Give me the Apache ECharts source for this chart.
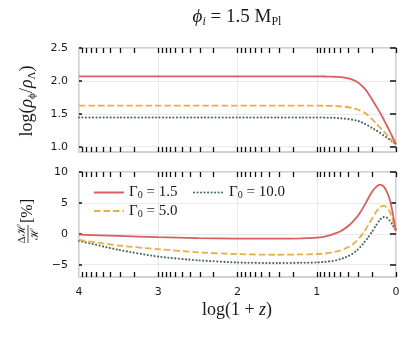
<!DOCTYPE html>
<html><head><meta charset="utf-8">
<script src="https://cdn.jsdelivr.net/npm/echarts@6/dist/echarts.min.js"></script>
<style>html,body{margin:0;padding:0;background:#fff}#c{width:415px;height:338px}</style>
</head><body><div id="c"></div>
<script>
// ---- data ----
const xVals  = [4, 3.5, 3, 2.5, 2, 1.5, 1.2, 1.0, 0.9, 0.85, 0.8, 0.75, 0.7, 0.65, 0.6, 0.55, 0.5, 0.45, 0.4, 0.35, 0.3, 0.25, 0.2, 0.16, 0.12, 0.08, 0.05, 0.02, 0];
const rho15  = [2.07, 2.07, 2.07, 2.07, 2.07, 2.07, 2.07, 2.068, 2.067, 2.066, 2.064, 2.062, 2.058, 2.051, 2.04, 2.02, 1.99, 1.947, 1.89, 1.81, 1.715, 1.615, 1.515, 1.425, 1.33, 1.238, 1.163, 1.087, 1.035];
const rho50  = [1.625, 1.625, 1.625, 1.625, 1.625, 1.625, 1.625, 1.624, 1.622, 1.621, 1.62, 1.617, 1.613, 1.608, 1.60, 1.587, 1.57, 1.548, 1.518, 1.475, 1.417, 1.353, 1.29, 1.24, 1.187, 1.137, 1.093, 1.056, 1.035];
const rho100 = [1.445, 1.445, 1.445, 1.445, 1.445, 1.445, 1.445, 1.444, 1.442, 1.441, 1.44, 1.437, 1.432, 1.427, 1.42, 1.411, 1.40, 1.38, 1.352, 1.319, 1.284, 1.248, 1.21, 1.176, 1.143, 1.109, 1.081, 1.054, 1.035];
const dH15   = [-0.15, -0.35, -0.55, -0.7, -0.8, -0.8, -0.75, -0.62, -0.45, -0.3, -0.1, 0.13, 0.4, 0.8, 1.3, 1.9, 2.6, 3.5, 4.55, 5.75, 6.85, 7.6, 7.95, 7.7, 6.9, 5.6, 3.9, 1.8, 0.5];
const dH50   = [-1.0, -1.9, -2.5, -3.0, -3.3, -3.4, -3.35, -3.3, -3.2, -3.1, -3.0, -2.87, -2.7, -2.45, -2.15, -1.75, -1.2, -0.5, 0.35, 1.4, 2.5, 3.55, 4.3, 4.5, 4.3, 3.6, 2.6, 1.3, 0.5];
const dH100  = [-1.15, -2.6, -3.7, -4.3, -4.65, -4.75, -4.7, -4.65, -4.55, -4.48, -4.4, -4.27, -4.1, -3.88, -3.6, -3.25, -2.75, -2.15, -1.4, -0.55, 0.4, 1.4, 2.3, 2.7, 2.65, 2.15, 1.6, 0.9, 0.4];
const seriesNames = ['g15', 'g50', 'g100'];
const legendLabels = {g15: '1.5', g50: '5.0', g100: '10.0'};
const yTopTicks = [1.0, 1.5, 2.0, 2.5];
const yBotTicks = [-5, 0, 5, 10];
const colors = ['#d65f5f', '#e9ae48', '#4b6b63'];

// ---- helpers ----
const pts = a => xVals.map((x, i) => [x, a[i]]);
const SERIF = 'Liberation Serif';
const SANS = 'DejaVu Sans';
const txt = '#1a1a1a';

// log-style minor tick positions along x (category axis 4 -> 0)
const xCats = Array.from({length: 801}, (_, i) => (4 - i * 0.005).toFixed(3));
const minorPos = [];
for (let d = 1; d <= 4; d++) for (let k = 1; k <= 9; k++) minorPos.push(d - 1 + Math.log10(k));
const isMinor = (i, v) => minorPos.some(p => Math.abs(+v - p) < 0.0026);

const yTopCats = Array.from({length: 159}, (_, i) => (0.92 + i * 0.01).toFixed(2));
const yBotCats = Array.from({length: 171}, (_, i) => (-7 + i * 0.1).toFixed(1));
const onTop = (i, v) => yTopTicks.some(t => Math.abs(+v - t) < 1e-6);
const onBot = (i, v) => yBotTicks.some(t => Math.abs(+v - t) < 1e-6);

const grids = [
  {left: 79, width: 317, top: 48, height: 104, show: true, borderColor: '#c2c2c2', borderWidth: 1.5},
  {left: 79, width: 317, top: 172, height: 105, show: true, borderColor: '#c2c2c2', borderWidth: 1.5}
];

function valX(g, showLabel) {
  return {type: 'value', gridIndex: g, min: 0, max: 4, interval: 1, inverse: true,
    axisLine: {show: false}, axisTick: {show: false},
    axisLabel: {show: showLabel, color: txt, fontFamily: SANS, fontSize: 11, margin: 10},
    splitLine: {show: true, lineStyle: {color: '#e4e4e4', width: 0.8}}};
}
function tickX(g, pos) {
  return {type: 'category', gridIndex: g, position: pos, data: xCats, boundaryGap: false,
    axisLine: {show: false}, axisLabel: {show: false}, splitLine: {show: false},
    axisTick: {show: true, inside: true, length: 5, interval: isMinor, lineStyle: {color: '#111', width: 1.3}}};
}
function catY(g, cats, fn, pos, showLabel, len, fmt) {
  return {type: 'category', gridIndex: g, position: pos, data: cats, boundaryGap: false,
    axisLine: {show: false},
    axisLabel: {show: showLabel, interval: fn, color: txt, fontFamily: SANS, fontSize: 11, margin: 11, formatter: fmt},
    axisTick: {show: true, inside: true, length: len, interval: fn, lineStyle: {color: '#111', width: 1.5}},
    splitLine: {show: pos === 'left', interval: fn, lineStyle: {color: '#e4e4e4', width: 0.8}}};
}
const fmtTop = v => (+v).toFixed(1);
const fmtBot = v => { const n = Math.round(+v); return n < 0 ? '\u2212' + (-n) : String(n); };

function line(name, xi, yi, data, ci, type) {
  let ls = {color: colors[ci], width: 1.8};
  if (type === 'dashed') ls = Object.assign(ls, {type: [6.5, 3]});
  if (type === 'dotted') ls = Object.assign(ls, {type: [0.1, 3.4], cap: 'round', width: 2.1});
  return {type: 'line', name, xAxisIndex: xi, yAxisIndex: yi, data: pts(data), symbol: 'none',
    smooth: 0.2, lineStyle: ls, itemStyle: {color: colors[ci]}, z: 5 - ci, animation: false};
}

const legendRich = {
  g: {fontFamily: SERIF, fontSize: 15, color: txt},
  s: {fontFamily: SERIF, fontSize: 10, color: txt, verticalAlign: 'bottom', padding: [6, 0, 0, 0]}
};
const legFmt = n => '{g|\u0393}{s|0}{g| = ' + legendLabels[n] + '}';
const legBase = {orient: 'vertical', top: 180, itemGap: 3, itemWidth: 30, itemHeight: 14,
  formatter: legFmt, textStyle: {rich: legendRich}, selectedMode: false,
  itemStyle: {opacity: 0, borderWidth: 0}};

const option = {
  animation: false,
  grid: grids,
  xAxis: [valX(0, false), valX(1, true), tickX(0, 'top'), tickX(0, 'bottom'), tickX(1, 'top'), tickX(1, 'bottom')],
  yAxis: [
    {type: 'value', gridIndex: 0, min: 0.92, max: 2.5, show: false, splitLine: {show: false}},
    catY(0, yTopCats, onTop, 'left', true, 3, fmtTop),
    catY(0, yTopCats, onTop, 'right', false, 6, fmtTop),
    {type: 'value', gridIndex: 1, min: -7, max: 10, show: false, splitLine: {show: false}},
    catY(1, yBotCats, onBot, 'left', true, 3, fmtBot),
    catY(1, yBotCats, onBot, 'right', false, 6, fmtBot)
  ],
  legend: [
    Object.assign({data: ['g15', 'g50'], left: 88}, legBase),
    Object.assign({data: ['g100'], left: 188}, legBase)
  ],
  series: [
    line('g15', 0, 0, rho15, 0, 'solid'),
    line('g50', 0, 0, rho50, 1, 'dashed'),
    line('g100', 0, 0, rho100, 2, 'dotted'),
    line('g15', 1, 3, dH15, 0, 'solid'),
    line('g50', 1, 3, dH50, 1, 'dashed'),
    line('g100', 1, 3, dH100, 2, 'dotted')
  ],
  graphic: [
    {type: 'text', x: 237, y: 17, style: {
      text: '{a|\u03d5}{b|i}{c| = 1.5 M}{d|Pl}', align: 'center', verticalAlign: 'middle',
      rich: {
        a: {fontFamily: SERIF, fontStyle: 'italic', fontSize: 19, fill: txt, lineHeight: 22},
        b: {fontFamily: SERIF, fontStyle: 'italic', fontSize: 12, fill: txt, verticalAlign: 'bottom', lineHeight: 14},
        c: {fontFamily: SERIF, fontSize: 19, fill: txt, lineHeight: 22},
        d: {fontFamily: SERIF, fontSize: 12, fill: txt, verticalAlign: 'bottom', lineHeight: 14}
      }}},
    {type: 'text', x: 237, y: 310, style: {
      text: 'log(1 + {i|z})', align: 'center', verticalAlign: 'middle',
      fontFamily: SERIF, fontSize: 18, fill: txt,
      rich: {i: {fontFamily: SERIF, fontStyle: 'italic', fontSize: 18, fill: txt}}}},
    {type: 'text', x: 27, y: 101, rotation: Math.PI / 2, style: {
      text: 'log({r|\u03c1}{s|\u03d5}/{r|\u03c1}{s|\u039b})', align: 'center', verticalAlign: 'middle',
      fontFamily: SERIF, fontSize: 18, fill: txt,
      rich: {
        r: {fontFamily: SERIF, fontStyle: 'italic', fontSize: 18, fill: txt, lineHeight: 21},
        s: {fontFamily: SERIF, fontSize: 11, fill: txt, verticalAlign: 'bottom', lineHeight: 13}
      }}},
    {type: 'group', x: 28, y: 222, rotation: Math.PI / 2, children: [
      {type: 'text', x: -12, y: -6, style: {text: '\u0394\u210b', align: 'center', verticalAlign: 'middle', fontFamily: SERIF, fontSize: 11, fill: txt}},
      {type: 'line', shape: {x1: -21, y1: 0, x2: -3, y2: 0}, style: {stroke: txt, lineWidth: 0.8}},
      {type: 'text', x: -12, y: 7, style: {text: '\u210b', align: 'center', verticalAlign: 'middle', fontFamily: SERIF, fontSize: 11, fill: txt}},
      {type: 'text', x: 11, y: 0, style: {text: '[%]', align: 'center', verticalAlign: 'middle', fontFamily: SERIF, fontSize: 16, fill: txt}}
    ]}
  ]
};
const chart = echarts.init(document.getElementById('c'), null, {renderer: 'canvas'});
chart.setOption(option);
</script></body></html>
